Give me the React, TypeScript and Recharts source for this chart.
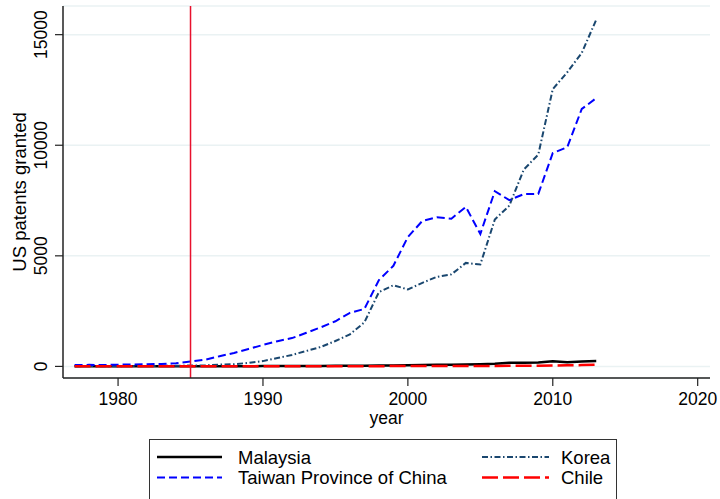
import React from 'react';
import { LineChart, Line, XAxis, YAxis, CartesianGrid, ReferenceLine, Legend } from 'recharts';

const years = [1977, 1978, 1979, 1980, 1981, 1982, 1983, 1984, 1985, 1986, 1987, 1988, 1989, 1990, 1991, 1992, 1993, 1994, 1995, 1996, 1997, 1998, 1999, 2000, 2001, 2002, 2003, 2004, 2005, 2006, 2007, 2008, 2009, 2010, 2011, 2012, 2013];
const malaysia = [5, 5, 5, 5, 5, 5, 5, 5, 5, 5, 10, 10, 10, 15, 15, 20, 20, 20, 25, 30, 35, 40, 40, 50, 60, 70, 80, 90, 100, 120, 160, 170, 180, 230, 190, 225, 240];
const taiwan = [60, 70, 60, 80, 90, 100, 110, 140, 220, 300, 460, 610, 790, 970, 1140, 1280, 1520, 1770, 2040, 2420, 2600, 3900, 4550, 5850, 6580, 6740, 6680, 7210, 5990, 7920, 7520, 7790, 7800, 9650, 9910, 11640, 12130];
const korea = [10, 15, 10, 10, 20, 15, 25, 30, 40, 50, 80, 100, 160, 240, 380, 520, 700, 880, 1150, 1450, 1990, 3360, 3670, 3480, 3780, 4050, 4160, 4680, 4610, 6640, 7270, 8900, 9580, 12540, 13300, 14170, 15680];
const chile = [10, 10, 5, 5, 5, 5, 5, 5, 5, 5, 5, 5, 5, 5, 5, 5, 10, 10, 10, 10, 10, 10, 15, 15, 15, 15, 15, 15, 20, 20, 25, 30, 30, 40, 50, 60, 80];

const xTicks = [1980, 1990, 2000, 2010, 2020];
const yTicks = [0, 5000, 10000, 15000];
const markerYear = 1985;

const FONT = '"Liberation Sans", Arial, Helvetica, sans-serif';

const series = [
  { key: 'malaysia', name: 'Malaysia', color: '#000000', width: 2.5, dash: undefined as string | undefined },
  { key: 'korea', name: 'Korea', color: '#1a476f', width: 2, dash: '6 2.5 1.5 2.5' },
  { key: 'taiwan', name: 'Taiwan Province of China', color: '#0000ff', width: 2, dash: '8 4' },
  { key: 'chile', name: 'Chile', color: '#ff0000', width: 2.5, dash: '16 5' },
];

const data = years.map((year, i) => ({
  year,
  malaysia: malaysia[i],
  taiwan: taiwan[i],
  korea: korea[i],
  chile: chile[i],
}));

const YTick = (props: any) => {
  const { x, y, payload } = props;
  return (
    <text
      x={x}
      y={y}
      transform={`rotate(-90, ${x}, ${y})`}
      textAnchor="middle"
      fontFamily={FONT}
      fontSize={17.5}
      fill="#000"
    >
      {payload.value}
    </text>
  );
};

const XTick = (props: any) => {
  const { x, y, payload } = props;
  return (
    <text x={x} y={y} dy="0.71em" textAnchor="middle" fontFamily={FONT} fontSize={17.5} fill="#000">
      {payload.value}
    </text>
  );
};

const XLabel = (props: any) => {
  const vb = props.viewBox || {};
  return (
    <text x={vb.x + vb.width / 2} y={vb.y + 46} textAnchor="middle" fontFamily={FONT} fontSize={17.5} fill="#000">
      year
    </text>
  );
};

const YLabel = (props: any) => {
  const vb = props.viewBox || {};
  const cy = vb.y + vb.height / 2;
  const cx = 26;
  return (
    <text x={cx} y={cy} transform={`rotate(-90, ${cx}, ${cy})`} textAnchor="middle" fontFamily={FONT} fontSize={18.5} fill="#000">
      US patents granted
    </text>
  );
};

const legendRows = [
  [series[0], series[1]],
  [series[2], series[3]],
];

const LegendBox = () => (
  <svg width={469} height={60} style={{ display: 'block' }}>
    <rect x={0.5} y={0.5} width={467} height={90} fill="#ffffff" stroke="#333333" strokeWidth={1} />
    {[series[0], series[2]].map((s, r) => (
      <g key={s.key}>
        <line x1={8} x2={73} y1={18 + r * 20.5} y2={18 + r * 20.5} stroke={s.color} strokeWidth={s.width} strokeDasharray={s.dash} />
        <text x={89} y={24.5 + r * 20.5} fontFamily={FONT} fontSize={18.5} fill="#000">{s.name}</text>
      </g>
    ))}
    {[series[1], series[3]].map((s, r) => (
      <g key={s.key}>
        <line x1={333} x2={400} y1={18 + r * 20.5} y2={18 + r * 20.5} stroke={s.color} strokeWidth={s.width} strokeDasharray={s.dash} />
        <text x={412} y={24.5 + r * 20.5} fontFamily={FONT} fontSize={18.5} fill="#000">{s.name}</text>
      </g>
    ))}
  </svg>
);

export default function App() {
  void legendRows;
  return (
    <div style={{ position: 'absolute', left: 0, top: 0, width: 720, height: 499, background: '#fff', overflow: 'hidden' }}>
      <LineChart width={720} height={499} data={data} margin={{ top: 6, right: 10, left: 0, bottom: 0 }}>
        <CartesianGrid horizontal={true} vertical={false} stroke="#eaf2f3" strokeWidth={1.5} />
        <XAxis
          dataKey="year"
          type="number"
          domain={[1976.2, 2020.85]}
          ticks={xTicks}
          allowDataOverflow
          height={121}
          tickSize={8}
          tickMargin={7}
          tick={<XTick />}
          axisLine={{ stroke: '#222', strokeWidth: 1.5 }}
          tickLine={{ stroke: '#222', strokeWidth: 1.2 }}
          label={<XLabel />}
        />
        <YAxis
          type="number"
          domain={[-524, 16296]}
          ticks={yTicks}
          allowDataOverflow
          width={63}
          tickSize={8}
          tickMargin={8}
          tick={<YTick />}
          axisLine={{ stroke: '#222', strokeWidth: 1.5 }}
          tickLine={{ stroke: '#222', strokeWidth: 1.2 }}
          label={<YLabel />}
        />
        {series.map((s) => (
          <Line
            key={s.key}
            type="linear"
            dataKey={s.key}
            name={s.name}
            stroke={s.color}
            strokeWidth={s.width}
            strokeDasharray={s.dash}
            dot={false}
            activeDot={false}
            isAnimationActive={false}
          />
        ))}
        <ReferenceLine x={markerYear} stroke="#e8112d" strokeWidth={1.5} />
        <Legend
          layout="horizontal"
          verticalAlign="middle"
          align="center"
          content={<LegendBox />}
          wrapperStyle={{ left: 149, top: 439, width: 469, height: 60 }}
        />
      </LineChart>
    </div>
  );
}
